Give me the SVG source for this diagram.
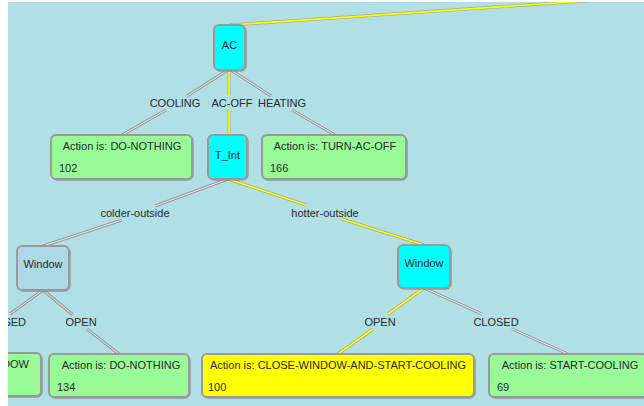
<svg xmlns="http://www.w3.org/2000/svg" width="644" height="406" viewBox="0 0 644 406">
  <style>
    .node { stroke: #9a9a9a; stroke-width: 2; }
    .shadow { fill: none; stroke: #7d7d7d; stroke-width: 1; }
    .decision { fill: #00ffff; }
    .idle { fill: #add8e6; }
    .leaf { fill: #98fb98; }
    .hot { fill: #ffff00; }
    .txt { font-family: "Liberation Sans", Arial, sans-serif; font-size: 11px; fill: #2a2a2a; }
    .mid { text-anchor: middle; }
    .edge-out { fill: none; stroke: #9c9c9c; stroke-width: 3; stroke-linecap: butt; }
    .edge-in { fill: none; stroke: #e6e6e6; stroke-width: 1; }
    .path-out { fill: none; stroke: #a8a890; stroke-width: 3; }
    .path-in { fill: none; stroke: #ffff00; stroke-width: 1.6; }
  </style>
  <defs>
    <clipPath id="canvas">
      <rect x="8" y="2" width="636" height="404"/>
    </clipPath>
  </defs>

  <rect x="0" y="0" width="644" height="406" fill="#ffffff"/>
  <rect x="8" y="2" width="636" height="404" fill="#b0dfe5"/>

  <g clip-path="url(#canvas)">
    <!-- connectors: each edge is split around its label -->
    <g id="connectors">
      <!-- highlighted path -->
      <path class="path-out" d="M230,25 L600,0"/>
      <path class="path-in" d="M230,25 L600,0"/>
      <path class="path-out" d="M229,70 L229,95 M229,110 L229,135"/>
      <path class="path-in" d="M229,70 L229,95 M229,110 L229,135"/>
      <path class="path-out" d="M228,179 L306,205 M342,219 L424,245"/>
      <path class="path-in" d="M228,179 L306,205 M342,219 L424,245"/>
      <path class="path-out" d="M424,288 L388,314 M373,329 L338,354"/>
      <path class="path-in" d="M424,288 L388,314 M373,329 L338,354"/>
      <!-- ordinary edges -->
      <path class="edge-out" d="M228,70 L187,96 M166,110 L122,135"/>
      <path class="edge-in" d="M228,70 L187,96 M166,110 L122,135"/>
      <path class="edge-out" d="M231,70 L271,96 M292,110 L335,135"/>
      <path class="edge-in" d="M231,70 L271,96 M292,110 L335,135"/>
      <path class="edge-out" d="M228,179 L155,206 M122,220 L43,246"/>
      <path class="edge-in" d="M228,179 L155,206 M122,220 L43,246"/>
      <path class="edge-out" d="M43,290 L10,314"/>
      <path class="edge-in" d="M43,290 L10,314"/>
      <path class="edge-out" d="M43,290 L73,315 M87,329 L119,354"/>
      <path class="edge-in" d="M43,290 L73,315 M87,329 L119,354"/>
      <path class="edge-out" d="M424,288 L482,314 M512,329 L568,354"/>
      <path class="edge-in" d="M424,288 L482,314 M512,329 L568,354"/>
    </g>

    <!-- edge labels -->
    <g id="labels" class="txt">
      <text class="mid" x="175" y="107">COOLING</text>
      <text class="mid" x="232" y="107">AC-OFF</text>
      <text class="mid" x="282" y="107">HEATING</text>
      <text class="mid" x="135" y="217">colder-outside</text>
      <text class="mid" x="325" y="217">hotter-outside</text>
      <text x="26" y="326" text-anchor="end">SED</text>
      <text class="mid" x="81" y="326">OPEN</text>
      <text class="mid" x="380" y="326">OPEN</text>
      <text class="mid" x="496" y="326">CLOSED</text>
    </g>

    <g id="node-ac">
      <rect class="shadow" x="215" y="26" width="31" height="45" rx="5"/>
      <rect class="node decision" x="214" y="25" width="31" height="45" rx="5"/>
      <text class="txt mid" x="229.5" y="49">AC</text>
    </g>

    <g id="node-cooling">
      <rect class="shadow" x="52" y="136" width="141" height="44" rx="5"/>
      <rect class="node leaf" x="51" y="135" width="141" height="44" rx="5"/>
      <text class="txt mid" x="122" y="150">Action is: DO-NOTHING</text>
      <text class="txt" x="59" y="172">102</text>
    </g>

    <g id="node-tint">
      <rect class="shadow" x="209" y="136" width="39" height="44" rx="5"/>
      <rect class="node decision" x="208" y="135" width="39" height="44" rx="5"/>
      <text class="txt mid" x="227.5" y="159">T_Int</text>
    </g>

    <g id="node-heating">
      <rect class="shadow" x="263" y="136" width="144" height="44" rx="5"/>
      <rect class="node leaf" x="262" y="135" width="144" height="44" rx="5"/>
      <text class="txt mid" x="335" y="150">Action is: TURN-AC-OFF</text>
      <text class="txt" x="270" y="172">166</text>
    </g>

    <g id="node-window-colder">
      <rect class="shadow" x="18" y="247" width="52" height="44" rx="5"/>
      <rect class="node idle" x="17" y="246" width="52" height="44" rx="5"/>
      <text class="txt mid" x="43" y="268">Window</text>
    </g>

    <g id="node-window-hotter">
      <rect class="shadow" x="399" y="246" width="52" height="43" rx="5"/>
      <rect class="node decision" x="398" y="245" width="52" height="43" rx="5"/>
      <text class="txt mid" x="424" y="267">Window</text>
    </g>

    <g id="node-colder-closed">
      <rect class="shadow" x="-99" y="354" width="141" height="43" rx="5"/>
      <rect class="node leaf" x="-100" y="353" width="141" height="43" rx="5"/>
      <text class="txt" x="29" y="368" text-anchor="end">DOW</text>
    </g>

    <g id="node-colder-open">
      <rect class="shadow" x="50" y="355" width="140" height="43" rx="5"/>
      <rect class="node leaf" x="49" y="354" width="140" height="43" rx="5"/>
      <text class="txt mid" x="121" y="369">Action is: DO-NOTHING</text>
      <text class="txt" x="57" y="391">134</text>
    </g>

    <g id="node-hotter-open">
      <rect class="shadow" x="203" y="355" width="272" height="43" rx="5"/>
      <rect class="node hot" x="202" y="354" width="272" height="43" rx="5"/>
      <text class="txt mid" x="338" y="369">Action is: CLOSE-WINDOW-AND-START-COOLING</text>
      <text class="txt" x="208" y="391">100</text>
    </g>

    <g id="node-hotter-closed">
      <rect class="shadow" x="490" y="355" width="158" height="43" rx="5"/>
      <rect class="node leaf" x="489" y="354" width="158" height="43" rx="5"/>
      <text class="txt mid" x="570" y="369">Action is: START-COOLING</text>
      <text class="txt" x="497" y="391">69</text>
    </g>
  </g>
</svg>
